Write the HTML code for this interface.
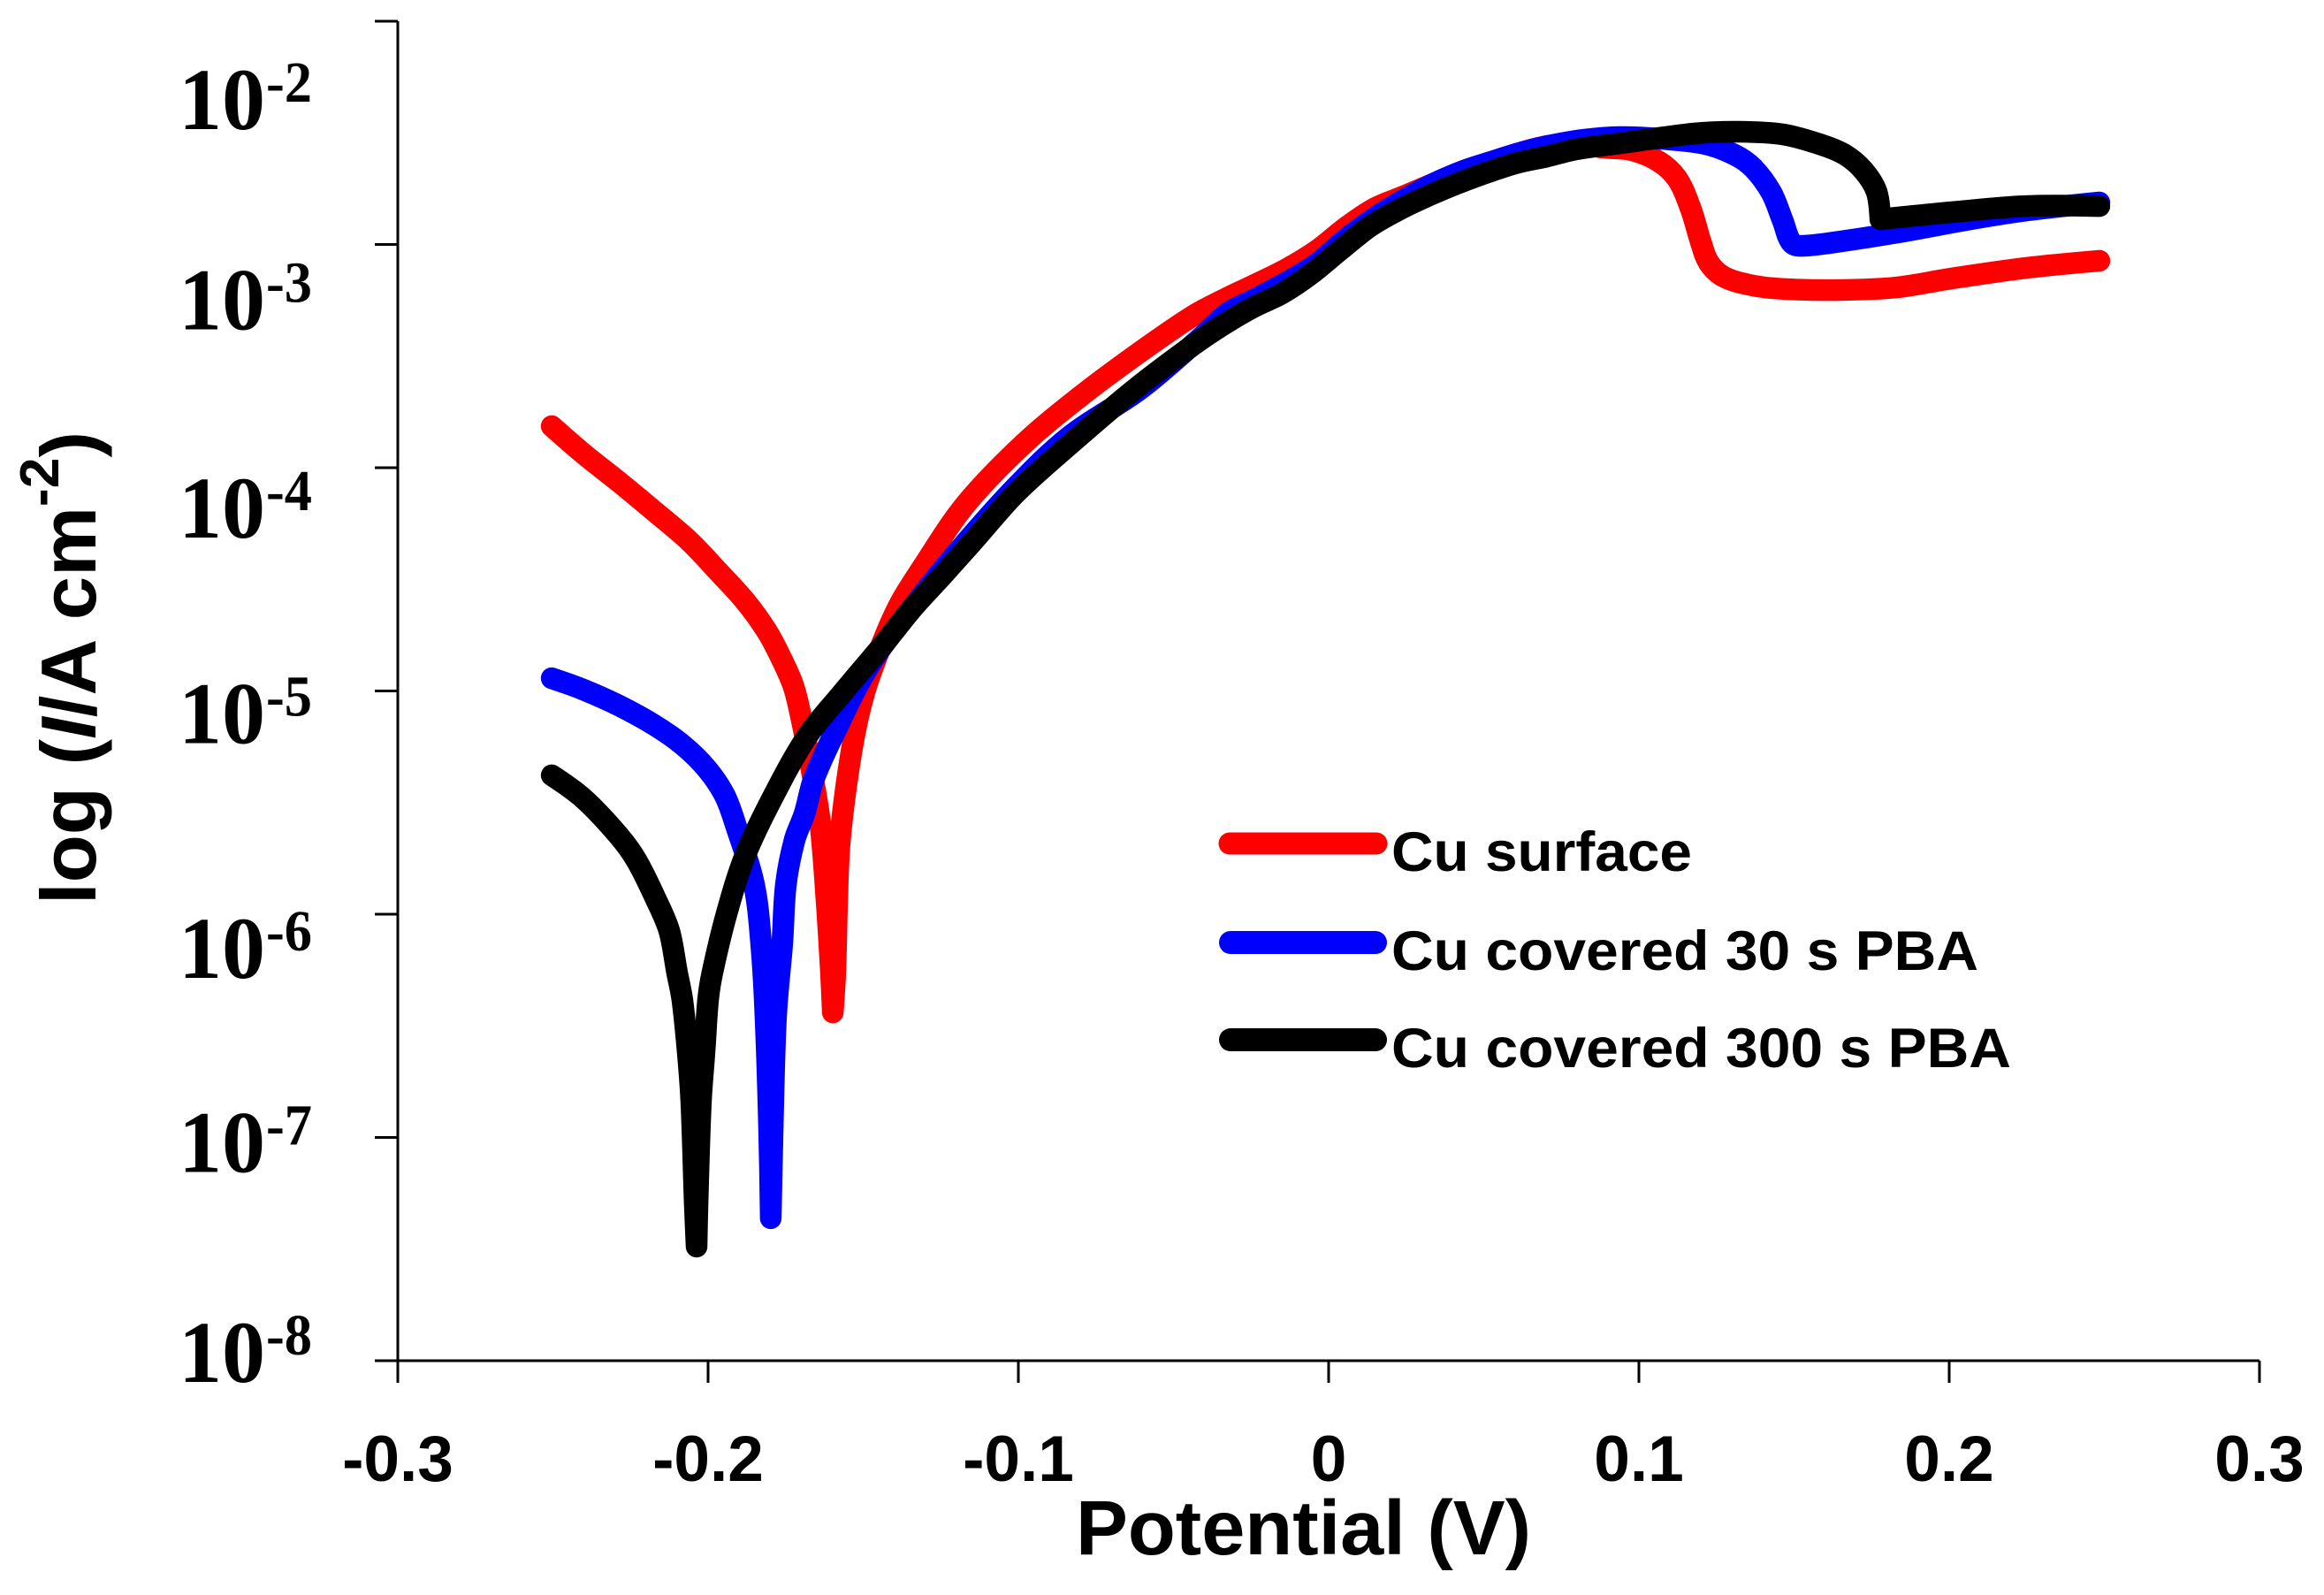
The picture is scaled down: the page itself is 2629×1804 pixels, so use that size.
<!DOCTYPE html>
<html lang="en">
<head>
<meta charset="utf-8">
<title>Polarization curves</title>
<style>
html,body{margin:0;padding:0;background:#fff;}
svg{display:block;}
.sans{font-family:"Liberation Sans",sans-serif;font-weight:bold;fill:#000;}
.serif{font-family:"Liberation Serif",serif;font-weight:bold;fill:#000;}
</style>
</head>
<body>
<svg id="chart" xmlns="http://www.w3.org/2000/svg" width="2629" height="1804" viewBox="0 0 2629 1804">
  <rect x="0" y="0" width="2629" height="1804" fill="#fff"/>
  <g id="series-layer"></g>
  <g id="axis-layer"></g>
  <text class="sans" x="1217" y="1758" font-size="87" textLength="515" lengthAdjust="spacingAndGlyphs">Potential (V)</text>
  <text class="sans" transform="translate(108 1023) rotate(-90)" x="0" y="0" font-size="88" textLength="535" lengthAdjust="spacingAndGlyphs">log (<tspan font-style="italic">I</tspan>/A cm<tspan font-size="62" dy="-42">-2</tspan><tspan dy="42">)</tspan></text>
  <g>
    <line x1="1391" y1="954" x2="1557" y2="954" stroke="#ff0000" stroke-width="25" stroke-linecap="round"/>
    <text class="sans" x="1574" y="985" font-size="63" textLength="340" lengthAdjust="spacingAndGlyphs">Cu surface</text>
    <line x1="1392" y1="1066" x2="1556" y2="1066" stroke="#0000ff" stroke-width="26" stroke-linecap="round"/>
    <text class="sans" x="1574" y="1097" font-size="63" textLength="664" lengthAdjust="spacingAndGlyphs">Cu covered 30 s PBA</text>
    <line x1="1392" y1="1176" x2="1556" y2="1176" stroke="#000000" stroke-width="26" stroke-linecap="round"/>
    <text class="sans" x="1574" y="1207" font-size="63" textLength="701" lengthAdjust="spacingAndGlyphs">Cu covered 300 s PBA</text>
  </g>
</svg>
<script>
// Axis ticks
const xTicks = [-0.3, -0.2, -0.1, 0, 0.1, 0.2, 0.3];
const xTickLabels = ['-0.3', '-0.2', '-0.1', '0', '0.1', '0.2', '0.3'];
const yTicks = [-2, -3, -4, -5, -6, -7, -8];
const yTickBases = ['10', '10', '10', '10', '10', '10', '10'];
const yTickExponents = ['-2', '-3', '-4', '-5', '-6', '-7', '-8'];

// Cu surface: potential (V), log10 current
const redPotential = [-.2504,-.2402,-.2288,-.2174,-.2060,-.1966,-.1880,-.1812,-.1766,-.1724,-.1695,-.1667,-.1638,-.1618,-.1604,-.1598,-.1590,-.1584,-.1575,-.1538,-.1496,-.1436,-.1382,-.1311,-.1171,-.0983,-.0795,-.0607,-.0436,-.0328,-.0231,-.0134,-.0037,.0060,.0151,.0242,.0336,.0430,.0524,.0615,.0709,.0818,.0880,.0977,.1066,.1125,.1168,.1199,.1225,.1274,.1368,.1476,.1652,.1832,.2009,.2248,.2484];
const redLogCurrent = [-3.814,-3.937,-4.063,-4.194,-4.329,-4.467,-4.598,-4.729,-4.848,-4.982,-5.152,-5.350,-5.600,-5.945,-6.261,-6.440,-6.261,-5.945,-5.667,-5.271,-5.006,-4.776,-4.610,-4.451,-4.166,-3.893,-3.675,-3.481,-3.319,-3.240,-3.176,-3.109,-3.026,-2.919,-2.836,-2.784,-2.729,-2.673,-2.630,-2.590,-2.558,-2.550,-2.566,-2.578,-2.630,-2.709,-2.844,-2.986,-3.081,-3.145,-3.184,-3.200,-3.204,-3.192,-3.152,-3.105,-3.073];

// Cu covered 30 s PBA
const bluePotential = [-.2504,-.2402,-.2288,-.2174,-.2080,-.2003,-.1946,-.1909,-.1852,-.1829,-.1815,-.1803,-.1798,-.1792,-.1781,-.1761,-.1749,-.1721,-.1689,-.1661,-.1598,-.1479,-.1316,-.1222,-.1028,-.0840,-.0607,-.0416,-.0325,-.0231,-.0134,-.0037,.0060,.0154,.0242,.0336,.0430,.0524,.0615,.0709,.0823,.0940,.1074,.1214,.1308,.1368,.1427,.1464,.1493,.1530,.1652,.1832,.2068,.2248,.2484];
const blueLogCurrent = [-4.943,-4.994,-5.065,-5.152,-5.244,-5.350,-5.469,-5.608,-5.865,-6.131,-6.459,-6.974,-7.362,-6.974,-6.459,-6.131,-5.865,-5.667,-5.549,-5.402,-5.204,-4.883,-4.582,-4.420,-4.115,-3.865,-3.648,-3.422,-3.307,-3.240,-3.168,-3.085,-2.970,-2.875,-2.800,-2.729,-2.673,-2.630,-2.590,-2.558,-2.531,-2.519,-2.527,-2.550,-2.598,-2.657,-2.768,-2.895,-2.994,-3.006,-2.986,-2.947,-2.887,-2.848,-2.812];

// Cu covered 300 s PBA
const blackPotential = [-.2504,-.2402,-.2288,-.2231,-.2168,-.2125,-.2100,-.2083,-.2066,-.2054,-.2043,-.2037,-.2034,-.2023,-.2011,-.2000,-.1986,-.1940,-.1880,-.1789,-.1681,-.1575,-.1433,-.1339,-.1242,-.1148,-.1006,-.0815,-.0627,-.0436,-.0342,-.0245,-.0151,-.0057,.0040,.0134,.0228,.0325,.0419,.0513,.0610,.0704,.0798,.0940,.1179,.1322,.1464,.1581,.1664,.1724,.1766,.1778,.1892,.2009,.2248,.2484];
const blackLogCurrent = [-5.378,-5.481,-5.648,-5.758,-5.933,-6.075,-6.261,-6.384,-6.610,-6.840,-7.295,-7.489,-7.295,-6.840,-6.610,-6.384,-6.261,-5.996,-5.735,-5.469,-5.204,-5.022,-4.788,-4.626,-4.479,-4.333,-4.111,-3.873,-3.651,-3.450,-3.362,-3.283,-3.220,-3.133,-3.022,-2.919,-2.844,-2.780,-2.725,-2.677,-2.634,-2.606,-2.574,-2.547,-2.503,-2.495,-2.507,-2.550,-2.598,-2.669,-2.764,-2.887,-2.871,-2.855,-2.828,-2.828];

const SVG_NS = 'http://www.w3.org/2000/svg';
const xLeft = 450, xRight = 2556, yTop = 24, yBottom = 1539;
const yLabelDrop = [122, 96, 79, 59, 72, 39, 24];

function xScale(v) {
  return xLeft + (v + 0.3) / 0.6 * (xRight - xLeft);
}
function yScale(logI) {
  return yTop + (-2 - logI) / 6 * (yBottom - yTop);
}
function make(tag, attrs) {
  const el = document.createElementNS(SVG_NS, tag);
  Object.keys(attrs).forEach(function (k) { el.setAttribute(k, attrs[k]); });
  return el;
}
// Smooth path through the mapped points; sharp turns stay as corners.
function smoothPath(xs, ys) {
  const p = xs.map(function (v, i) { return [xScale(v), yScale(ys[i])]; });
  const n = p.length;
  const tan = p.map(function (pt, i) {
    if (i === 0 || i === n - 1) return [0, 0];
    const ax = pt[0] - p[i - 1][0], ay = pt[1] - p[i - 1][1];
    const bx = p[i + 1][0] - pt[0], by = p[i + 1][1] - pt[1];
    const la = Math.hypot(ax, ay), lb = Math.hypot(bx, by);
    if (la === 0 || lb === 0) return [0, 0];
    const cos = (ax * bx + ay * by) / (la * lb);
    if (cos < 0.26) return [0, 0];
    const cx = p[i + 1][0] - p[i - 1][0], cy = p[i + 1][1] - p[i - 1][1];
    const lc = Math.hypot(cx, cy);
    return [cx / lc, cy / lc];
  });
  let d = 'M' + p[0][0].toFixed(1) + ' ' + p[0][1].toFixed(1);
  for (let i = 0; i < n - 1; i++) {
    const len = Math.hypot(p[i + 1][0] - p[i][0], p[i + 1][1] - p[i][1]) / 3;
    d += 'C' + (p[i][0] + tan[i][0] * len).toFixed(1) + ' ' + (p[i][1] + tan[i][1] * len).toFixed(1) +
      ' ' + (p[i + 1][0] - tan[i + 1][0] * len).toFixed(1) + ' ' + (p[i + 1][1] - tan[i + 1][1] * len).toFixed(1) +
      ' ' + p[i + 1][0].toFixed(1) + ' ' + p[i + 1][1].toFixed(1);
  }
  return d;
}

const axisLayer = document.getElementById('axis-layer');
const seriesLayer = document.getElementById('series-layer');

function drawSeries(name, color, xs, ys) {
  const line = make('path', {
    d: smoothPath(xs, ys), fill: 'none', stroke: color, 'stroke-width': 24.5,
    'stroke-linecap': 'round', 'stroke-linejoin': 'round'
  });
  
  
  seriesLayer.appendChild(line);
}
drawSeries('series-cu-surface', '#ff0000', redPotential, redLogCurrent);
drawSeries('series-cu-covered-30s-pba', '#0000ff', bluePotential, blueLogCurrent);
drawSeries('series-cu-covered-300s-pba', '#000000', blackPotential, blackLogCurrent);

const yAxisLine = make('line', { x1: xLeft, y1: yTop, x2: xLeft, y2: yBottom, stroke: '#000', 'stroke-width': 3 });


axisLayer.appendChild(yAxisLine);

const xAxisLine = make('line', { x1: xLeft, y1: yBottom, x2: xRight, y2: yBottom, stroke: '#000', 'stroke-width': 3 });


axisLayer.appendChild(xAxisLine);

xTicks.forEach(function (t, i) {
  const x = xScale(t);
  const tick = make('line', { x1: x, y1: yBottom, x2: x, y2: yBottom + 25, stroke: '#000', 'stroke-width': 3 });
  
  
  axisLayer.appendChild(tick);
  const label = make('text', { x: x, y: 1675, 'text-anchor': 'middle', 'font-size': 73, class: 'sans' });
  
  
  label.textContent = xTickLabels[i];
  axisLayer.appendChild(label);
});

yTicks.forEach(function (t, i) {
  const y = yScale(t);
  const tick = make('line', { x1: xLeft - 26, y1: y, x2: xLeft, y2: y, stroke: '#000', 'stroke-width': 3 });
  
  
  axisLayer.appendChild(tick);
  const base = y + yLabelDrop[i];
  const label = make('text', { x: 202, y: base, 'font-size': 100, class: 'serif', textLength: 98, lengthAdjust: 'spacingAndGlyphs' });
  
  
  label.textContent = yTickBases[i];
  axisLayer.appendChild(label);
  const exp = make('text', { x: 301, y: base - 31, 'font-size': 66, class: 'serif', textLength: 52, lengthAdjust: 'spacingAndGlyphs' });
  
  
  exp.textContent = yTickExponents[i];
  axisLayer.appendChild(exp);
});
</script>
</body>
</html>
